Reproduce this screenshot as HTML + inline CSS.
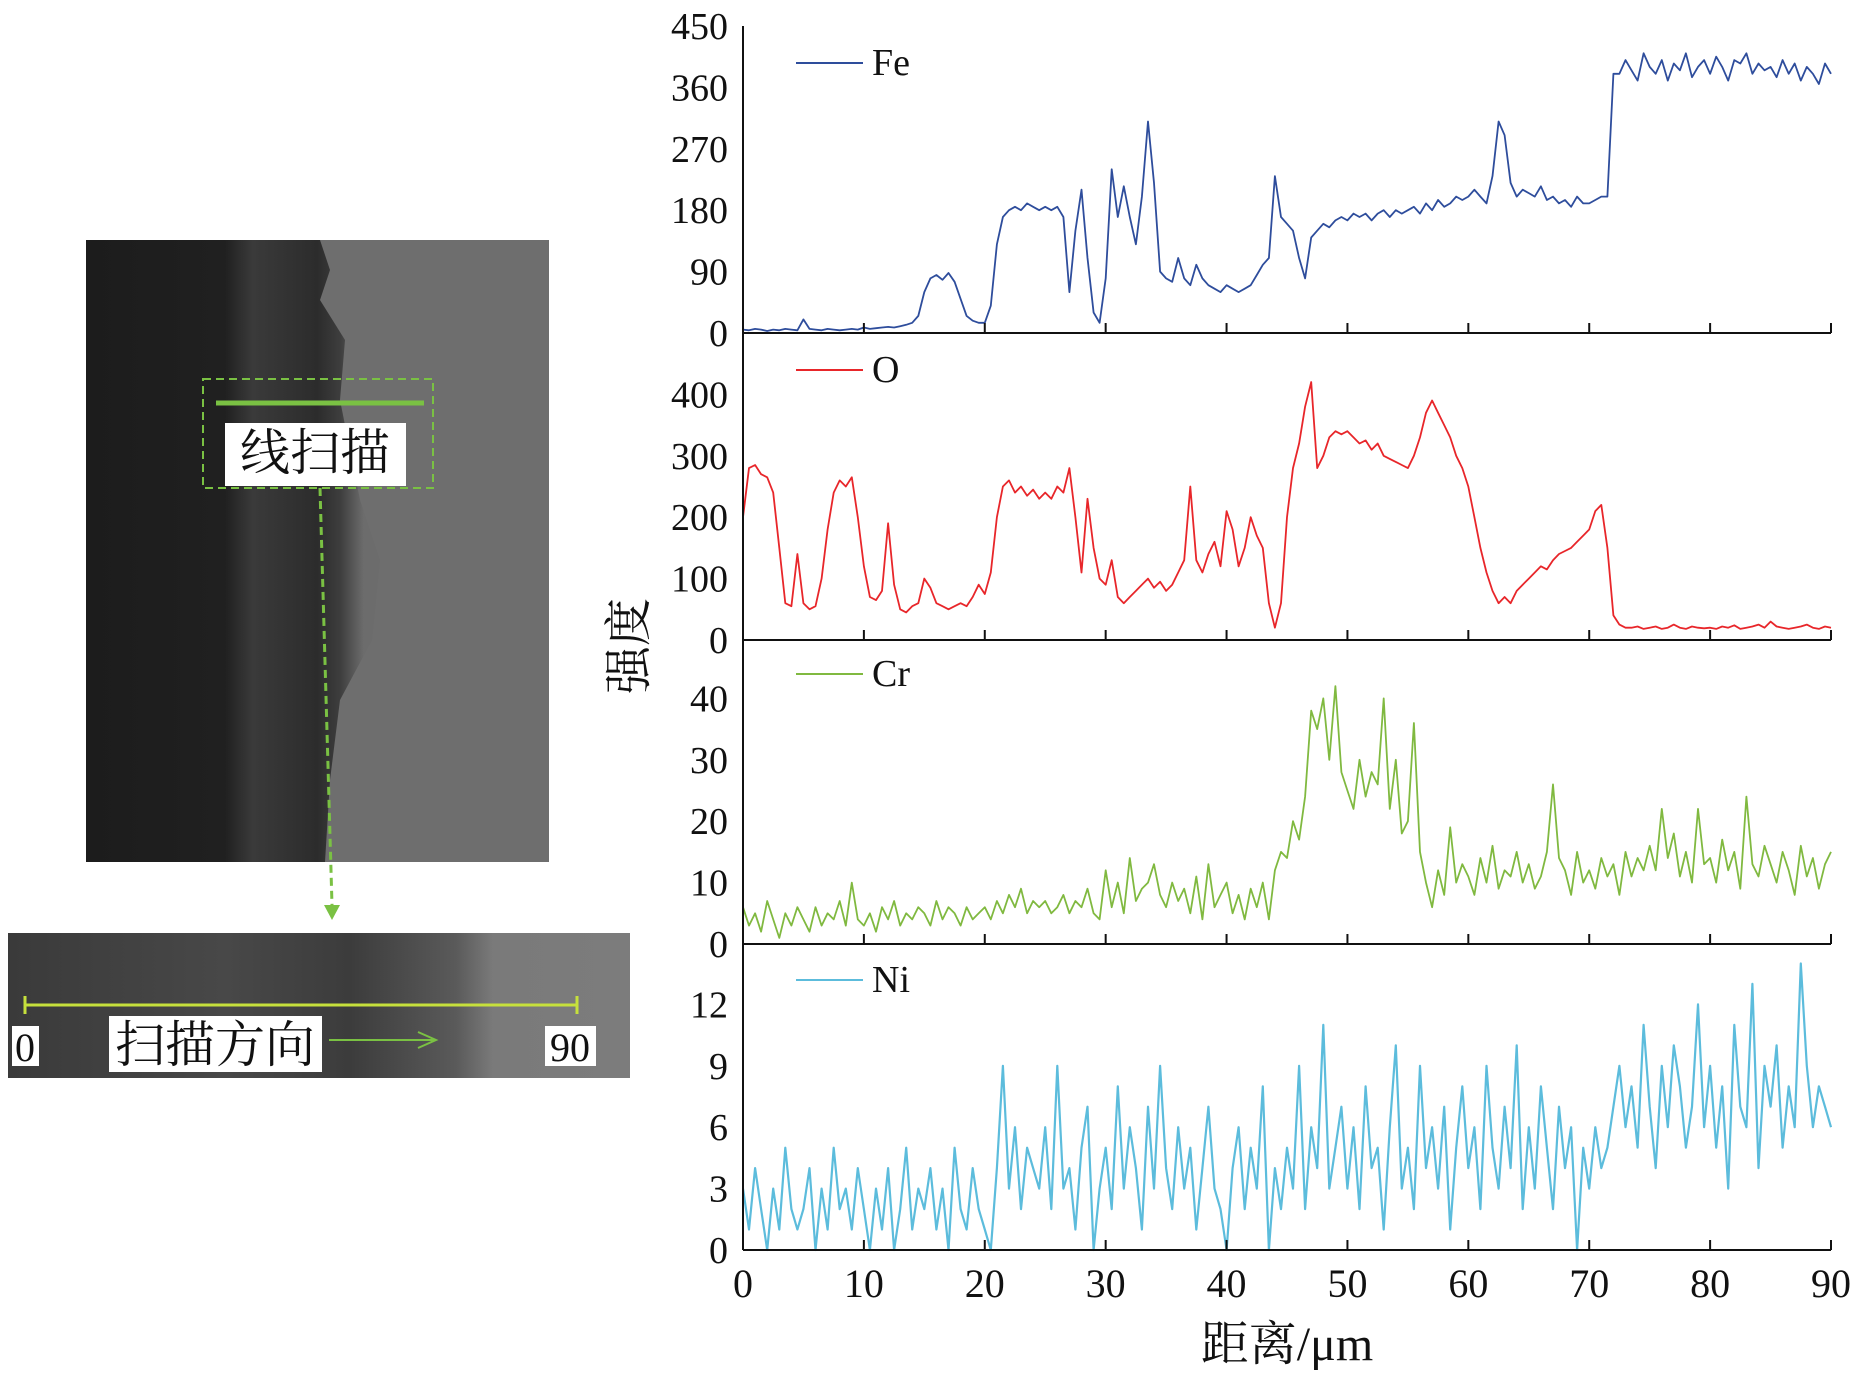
<!DOCTYPE html>
<html><head><meta charset="utf-8"><style>
html,body{margin:0;padding:0;background:#fff;}
svg{display:block;}
svg text{font-family:"Liberation Serif","Noto Serif CJK SC",serif !important;}
</style></head><body>
<svg id="chart" width="1857" height="1377" viewBox="0 0 1857 1377" xmlns="http://www.w3.org/2000/svg" font-family="Liberation Serif, Noto Serif CJK SC, serif">
<defs>
<linearGradient id="semg" x1="0" x2="1" y1="0" y2="0">
<stop offset="0" stop-color="#1c1c1c"/><stop offset="0.3" stop-color="#202020"/>
<stop offset="0.36" stop-color="#3a3a3a"/><stop offset="0.5" stop-color="#2c2c2c"/>
<stop offset="0.55" stop-color="#3e3e3e"/><stop offset="0.6" stop-color="#6c6c6c"/>
<stop offset="1" stop-color="#727272"/></linearGradient>
<linearGradient id="stripg" x1="0" x2="1" y1="0" y2="0">
<stop offset="0" stop-color="#3a3a3a"/><stop offset="0.35" stop-color="#484848"/>
<stop offset="0.55" stop-color="#3c3c3c"/><stop offset="0.72" stop-color="#5a5a5a"/>
<stop offset="0.78" stop-color="#7a7a7a"/><stop offset="1" stop-color="#7c7c7c"/></linearGradient>
</defs>
<g>
<rect x="86" y="240" width="463" height="622" fill="url(#semg)"/>
<path d="M320,240 L330,270 L320,300 L345,340 L340,400 L360,500 L380,560 L372,640 L340,700 L330,780 L325,862 L549,862 L549,240 Z" fill="#6e6e6e"/>
<rect x="203" y="379" width="230" height="109" fill="none" stroke="#7ac143" stroke-width="2" stroke-dasharray="8,5"/>
<line x1="216" y1="403" x2="424" y2="403" stroke="#7ac143" stroke-width="5"/>
<rect x="225" y="423" width="181" height="63" fill="#fff"/>
<text x="315" y="470" font-size="50" text-anchor="middle" fill="#111">线扫描</text>
<line x1="320" y1="488" x2="332" y2="905" stroke="#7ac143" stroke-width="3" stroke-dasharray="8,5"/>
<polygon points="324,905 340,905 332,920" fill="#7ac143"/>
</g>
<g>
<rect x="8" y="933" width="622" height="145" fill="url(#stripg)"/>
<line x1="24" y1="1005" x2="578" y2="1005" stroke="#c6e03c" stroke-width="3"/>
<line x1="25" y1="996" x2="25" y2="1014" stroke="#c6e03c" stroke-width="3"/>
<line x1="577" y1="996" x2="577" y2="1014" stroke="#c6e03c" stroke-width="3"/>
<rect x="12" y="1026" width="27" height="40" fill="#fff"/>
<text x="25" y="1061" font-size="40" text-anchor="middle" fill="#111">0</text>
<rect x="109" y="1016" width="213" height="56" fill="#fff"/>
<text x="215" y="1062" font-size="50" text-anchor="middle" fill="#111">扫描方向</text>
<line x1="329" y1="1040" x2="434" y2="1040" stroke="#7ac143" stroke-width="2"/>
<polyline points="418,1032 436,1040 418,1048" fill="none" stroke="#7ac143" stroke-width="2"/>
<rect x="545" y="1026" width="51" height="40" fill="#fff"/>
<text x="570" y="1061" font-size="40" text-anchor="middle" fill="#111">90</text>
</g>
<g id="plots"></g>
<text transform="translate(645,646) rotate(-90)" font-size="48" text-anchor="middle" fill="#111">强度</text>
<text x="1287" y="1360" font-size="48" text-anchor="middle" fill="#111">距离/μm</text>
</svg>
<script>
const xTicks=[0,10,20,30,40,50,60,70,80,90];
const feVals=[5,4,6,5,3,5,4,6,5,4, 20,6,5,4,6,5,4,5,6,5, 8,6,7,8,9,8,10,12,15,25, 60,80,85,78,88,75,50,25,18,15, 15,40,130,170,180,185,180,190,185,180, 185,180,185,170,60,150,210,110,30,15, 80,240,170,215,170,130,200,310,220,90, 80,75,110,80,70,100,80,70,65,60, 70,65,60,65,70,85,100,110,230,170, 160,150,110,80,140,150,160,155,165,170, 165,175,170,175,165,175,180,170,180,175, 180,185,175,190,180,195,185,190,200,195, 200,210,200,190,230,310,290,220,200,210, 205,200,215,195,200,190,195,185,200,190, 190,195,200,200,380,380,400,385,370,410, 390,380,400,370,395,385,410,375,390,400, 380,405,390,370,400,395,410,380,395,385, 390,375,400,380,395,370,390,380,365,395, 380];
const oVals=[200,280,285,270,265,240,150,60,55,140, 60,50,55,100,180,240,260,250,265,200, 120,70,65,80,190,90,50,45,55,60, 100,85,60,55,50,55,60,55,70,90, 75,110,200,250,260,240,250,235,245,230, 240,230,250,240,280,200,110,230,150,100, 90,130,70,60,70,80,90,100,85,95, 80,90,110,130,250,130,110,140,160,120, 210,180,120,150,200,170,150,60,20,60, 200,280,320,380,420,280,300,330,340,335, 340,330,320,325,310,320,300,295,290,285, 280,300,330,370,390,370,350,330,300,280, 250,200,150,110,80,60,70,60,80,90, 100,110,120,115,130,140,145,150,160,170, 180,210,220,150,40,25,20,20,22,18, 20,22,18,20,25,20,18,22,20,19, 20,18,22,20,24,18,20,22,25,20, 30,22,20,18,20,22,25,20,18,22, 20];
const crVals=[6,3,5,2,7,4,1,5,3,6, 4,2,6,3,5,4,7,3,10,4, 3,5,2,6,4,7,3,5,4,6, 5,3,7,4,6,5,3,6,4,5, 6,4,7,5,8,6,9,5,7,6, 7,5,6,8,5,7,6,9,5,4, 12,6,10,5,14,7,9,10,13,8, 6,10,7,9,5,11,4,13,6,8, 10,5,8,4,9,6,10,4,12,15, 14,20,17,24,38,35,40,30,42,28, 25,22,30,24,28,26,40,22,30,18, 20,36,15,10,6,12,8,19,10,13, 11,8,14,10,16,9,12,11,15,10, 13,9,11,15,26,14,12,8,15,10, 12,9,14,11,13,8,15,11,14,12, 16,12,22,14,18,11,15,10,22,13, 14,10,17,12,15,9,24,13,11,16, 13,10,15,12,8,16,11,14,9,13, 15];
const niVals=[3,1,4,2,0,3,1,5,2,1, 2,4,0,3,1,5,2,3,1,4, 2,0,3,1,4,0,2,5,1,3, 2,4,1,3,0,5,2,1,4,2, 1,0,4,9,3,6,2,5,4,3, 6,2,9,3,4,1,5,7,0,3, 5,2,8,3,6,4,1,7,3,9, 4,2,6,3,5,1,4,7,3,2, 0,4,6,2,5,3,8,0,4,2, 5,3,9,2,6,4,11,3,5,7, 3,6,2,8,4,5,1,6,10,3, 5,2,9,4,6,3,7,1,5,8, 4,6,2,9,5,3,7,4,10,2, 6,3,8,5,2,7,4,6,0,5, 3,6,4,5,7,9,6,8,5,11, 7,4,9,6,10,8,5,7,12,6, 9,5,8,3,11,7,6,13,4,9, 7,10,5,8,6,14,9,6,8,7, 6];
const feTicks=[0,90,180,270,360,450];
const oTicks=[0,100,200,300,400];
const crTicks=[0,10,20,30,40];
const niTicks=[0,3,6,9,12];
const xStep=0.5;
const panels=[
 {name:'fe',label:'Fe',vals:feVals,ticks:feTicks,max:450,bottom:333,color:'#2e4d9c',sw:1.8},
 {name:'o',label:'O',vals:oVals,ticks:oTicks,max:500,bottom:640,color:'#e8262a',sw:1.8},
 {name:'cr',label:'Cr',vals:crVals,ticks:crTicks,max:50,bottom:944,color:'#80b940',sw:1.8},
 {name:'ni',label:'Ni',vals:niVals,ticks:niTicks,max:15,bottom:1250,color:'#5cbcdc',sw:2.2}];
const NS='http://www.w3.org/2000/svg';
const X0=743,X1=1831,H=307;
const xs=v=>X0+(v/90)*(X1-X0);
const g=document.getElementById('plots');
function mk(t,a){const e=document.createElementNS(NS,t);for(const k in a)e.setAttribute(k,a[k]);g.appendChild(e);return e;}
panels.forEach(p=>{
 const ys=v=>p.bottom-(v/p.max)*H;
 const pts=p.vals.map((v,i)=>xs(i*xStep).toFixed(1)+','+ys(v).toFixed(1)).join(' ');
 const line=mk('polyline',{points:pts,fill:'none',stroke:p.color,'stroke-width':p.sw,'stroke-linejoin':'round'});
 
 
 const ax=mk('line',{x1:X0,y1:p.bottom,x2:X1,y2:p.bottom,stroke:'#111','stroke-width':2});
 
 
 const yl=mk('line',{x1:X0,y1:p.bottom-H,x2:X0,y2:p.bottom,stroke:'#111','stroke-width':2});
 
 
 xTicks.forEach(t=>{
  const tk=mk('line',{x1:xs(t),y1:p.bottom,x2:xs(t),y2:p.bottom-10,stroke:'#111','stroke-width':2});
  
  
 });
 p.ticks.forEach(t=>{
  const tx=mk('text',{x:728,y:ys(t)+13,'font-size':38,'text-anchor':'end',fill:'#111'});
  tx.textContent=t;
  
  
 });
 const ly=p.bottom-H+37;
 const ll=mk('line',{x1:796,y1:ly,x2:863,y2:ly,stroke:p.color,'stroke-width':2});
 
 
 const lt=mk('text',{x:872,y:ly+12,'font-size':38,fill:'#111'});
 lt.textContent=p.label;
 
 
});
xTicks.forEach(t=>{
 const tx=mk('text',{x:xs(t),y:1297,'font-size':40,'text-anchor':'middle',fill:'#111'});
 tx.textContent=t;
 
 
});
</script>
</body></html>
